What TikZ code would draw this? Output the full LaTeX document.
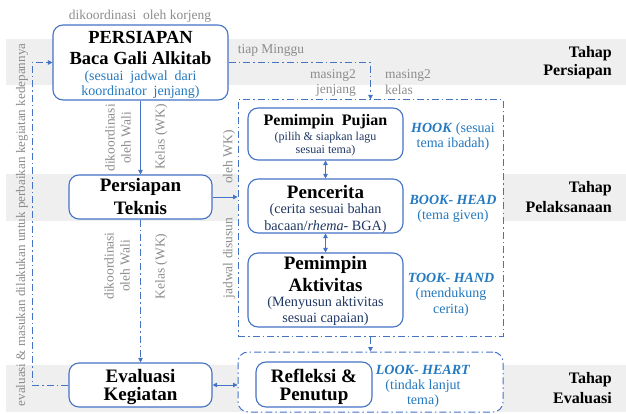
\documentclass[tikz,border=0pt]{standalone}
\usepackage{fontspec}
\setmainfont{Liberation Serif}
\usetikzlibrary{arrows.meta}
\definecolor{boxblue}{HTML}{4472C4}
\definecolor{txtblue}{HTML}{2479C0}
\definecolor{navy}{HTML}{203864}
\definecolor{lblgray}{HTML}{8C8C8C}
\definecolor{bandgray}{HTML}{EFEFEF}
\tikzset{
  box/.style={draw=boxblue, line width=1.1pt, rounded corners=10pt, fill=white, inner sep=0pt},
  dashdot/.style={dash pattern=on 7pt off 3pt on 1.5pt off 3pt},
  cont/.style={draw=boxblue, line width=1pt, fill=white, inner sep=0pt, dashdot},
  dd/.style={draw=boxblue, line width=1pt, dashdot},
  sl/.style={draw=boxblue, line width=0.9pt},
  tip/.style={-{Triangle[length=4.5pt,width=4.5pt]}},
  dtip/.style={{Triangle[length=4.5pt,width=4.5pt]}-{Triangle[length=4.5pt,width=4.5pt]}},
  ttl/.style={font=\fontsize{18.5}{21}\selectfont\bfseries, inner sep=0pt},
  bigttl/.style={font=\fontsize{19}{21}\selectfont\bfseries, inner sep=0pt},
  midttl/.style={font=\fontsize{16}{18}\selectfont\bfseries, inner sep=0pt},
  sub/.style={font=\fontsize{12}{14}\selectfont, text=navy, inner sep=0pt},
  subb/.style={font=\fontsize{14.2}{16}\selectfont, text=navy, inner sep=0pt},
  bsub/.style={font=\fontsize{14}{16}\selectfont, text=txtblue, inner sep=0pt},
  side/.style={font=\fontsize{14}{16}\selectfont, text=txtblue, inner sep=0pt},
  gl/.style={font=\fontsize{13.5}{16}\selectfont, text=lblgray, inner sep=0pt},
  tahap/.style={font=\fontsize{16}{18}\selectfont\bfseries, inner sep=0pt, anchor=east},
}
\begin{document}
\begin{tikzpicture}[x=1pt,y=-1pt]
\useasboundingbox (0,0) rectangle (626,414);
% bands
\fill[bandgray] (6,39) rectangle (626,85);
\fill[bandgray] (6,174) rectangle (626,221);
\fill[bandgray] (6,365) rectangle (626,412);

% containers
\node[cont, minimum width=265pt, minimum height=236pt] (cont1) at (370.5,218) {};
\node[cont, rounded corners=10pt, minimum width=265pt, minimum height=60pt] (cont2) at (370.5,382) {};

% main boxes
\node[box, minimum width=175pt, minimum height=75pt] (persiapan) at (140.5,62.5) {};
\node[box, minimum width=143pt, minimum height=44pt] (teknis) at (140.5,197) {};
\node[box, minimum width=143pt, minimum height=44pt] (evaluasi) at (140.5,385) {};
\node[box, minimum width=155pt, minimum height=52pt] (pujian) at (325.5,134) {};
\node[box, minimum width=155pt, minimum height=54pt] (pencerita) at (325.5,206) {};
\node[box, minimum width=155pt, minimum height=74pt] (aktivitas) at (325.5,290) {};
\node[box, minimum width=116pt, minimum height=45pt] (refleksi) at (314,384.5) {};

% texts in boxes
\node[ttl] (t1a) at (140.5,37.5) {PERSIAPAN};
\node[ttl] (t1b) at (140.5,58) {Baca Gali Alkitab};
\node[bsub] (t1c) at (140.5,77.5) {(sesuai\ \ jadwal\ \ dari};
\node[bsub] (t1d) at (140.5,92.5) {koordinator\ \ jenjang)};

\node[bigttl] (t2a) at (140.5,187) {Persiapan};
\node[bigttl] (t2b) at (140.5,208) {Teknis};
\node[bigttl] (t3a) at (140.5,376) {Evaluasi};
\node[bigttl] (t3b) at (140.5,396) {Kegiatan};

\node[midttl] (t4a) at (325.5,122) {Pemimpin\ \ Pujian};
\node[sub] (t4b) at (325.5,137.5) {(pilih \& siapkan lagu};
\node[sub] (t4c) at (325.5,151) {sesuai tema)};

\node[bigttl] (t5a) at (325.5,192) {Pencerita};
\node[subb] (t5b) at (325.5,210) {(cerita sesuai bahan};
\node[subb] (t5c) at (325.5,227) {bacaan/\textit{rhema}- BGA)};

\node[bigttl] (t6a) at (325.5,265) {Pemimpin};
\node[bigttl] (t6b) at (325.5,285) {Aktivitas};
\node[subb] (t6c) at (325.5,303) {(Menyusun aktivitas};
\node[subb] (t6d) at (325.5,319) {sesuai capaian)};

\node[bigttl] (t7a) at (314,376) {Refleksi \&};
\node[bigttl] (t7b) at (314,396) {Penutup};

% side labels
\node[side] (s1a) at (453,129) {\textbf{\textit{HOOK}} (sesuai};
\node[side] (s1b) at (453,144) {tema ibadah)};
\node[side] (s2a) at (453,200) {\textbf{\textit{BOOK- HEAD}}};
\node[side] (s2b) at (453,216) {(tema given)};
\node[side] (s3a) at (451,278) {\textbf{\textit{TOOK- HAND}}};
\node[side] (s3b) at (451,294) {(mendukung};
\node[side] (s3c) at (451,310) {cerita)};
\node[side] (s4a) at (423,370) {\textbf{\textit{LOOK- HEART}}};
\node[side] (s4b) at (423,386) {(tindak lanjut};
\node[side] (s4c) at (423,401) {tema)};

% tahap labels
\node[tahap] (tp1a) at (612,54) {Tahap};
\node[tahap] (tp1b) at (612,72) {Persiapan};
\node[tahap] (tp2a) at (612,189) {Tahap};
\node[tahap] (tp2b) at (612,207) {Pelaksanaan};
\node[tahap] (tp3a) at (612,380) {Tahap};
\node[tahap] (tp3b) at (612,398) {Evaluasi};

% gray labels
\node[gl] (g1) at (140,16) {dikoordinasi\ \ oleh korjeng};
\node[gl] (g2) at (271,50) {tiap Minggu};
\node[gl, anchor=east] (g3a) at (356,75) {masing2};
\node[gl, anchor=east] (g3b) at (356,90) {jenjang};
\node[gl, anchor=west] (g4a) at (385,75) {masing2};
\node[gl, anchor=west] (g4b) at (385,90) {kelas};
\node[gl, rotate=90, align=center] (g5) at (118,138) {dikoordinasi\\oleh Wali};
\node[gl, rotate=90] (g6) at (161.5,137) {Kelas (WK)};
\node[gl, rotate=90, align=center] (g7) at (117,266) {dikoordinasi\\oleh Wali};
\node[gl, rotate=90] (g8) at (161.5,266.5) {Kelas (WK)};
\node[gl, rotate=90] (g9) at (229,157) {oleh WK)};
\node[gl, rotate=90] (g10) at (229,258) {jadwal disusun};
\node[gl, rotate=90, font=\fontsize{13.1}{15}\selectfont] (g11) at (22,225) {evaluasi\ \& masukan\ dilakukan\ untuk\ perbaikan\ kegiatan\ kedepannya};

% connectors
\draw[dd, tip] (persiapan.east) -| (cont1.north);
\draw[sl, tip] (persiapan.south) -- (teknis.north);
\draw[dd, tip] (teknis.south) -- (evaluasi.north);
\draw[sl, tip] (teknis.east) -- (teknis.east -| cont1.west);
\draw[dd, tip] (cont1.south) -- (cont2.north);
\draw[sl, dtip] (evaluasi.east) -- (evaluasi.east -| cont2.west);
\draw[dd, tip] (evaluasi.west) -- ++(-36,0) |- (persiapan.west);
\draw[sl, dtip] (pujian.south) -- (pencerita.north);
\draw[sl, dtip] (pencerita.south) -- (aktivitas.north);
\end{tikzpicture}
\end{document}
